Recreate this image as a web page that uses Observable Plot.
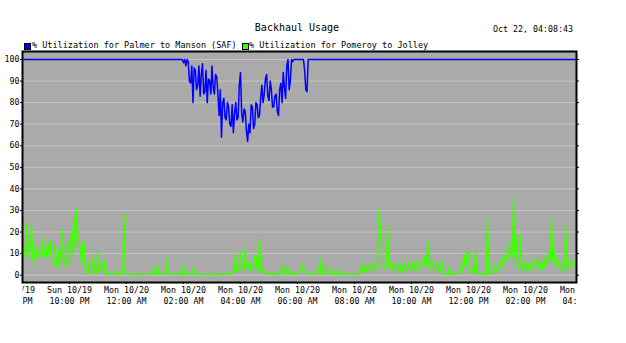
<!DOCTYPE html>
<html><head><meta charset="utf-8">
<script src="https://cdn.jsdelivr.net/npm/d3@7"></script>
<script src="https://cdn.jsdelivr.net/npm/@observablehq/plot@0.6"></script>
<style>
html,body{margin:0;padding:0;background:#fff;}
#wrap{width:626px;height:343px;position:relative;overflow:hidden;font-family:"DejaVu Sans Mono",monospace;color:#000;}
#head{position:relative;width:626px;height:50px;}
#title{position:absolute;left:0;width:594px;top:21.5px;text-align:center;font-size:10px;line-height:12px;white-space:pre;}
#stamp{position:absolute;right:53px;top:23px;font-size:8.3px;line-height:12px;white-space:pre;}
.lg{position:absolute;top:38.5px;font-size:8.5px;line-height:12px;white-space:pre;}
.sw{position:absolute;top:43px;width:5px;height:5px;border:0.5px solid #000;}
</style>
</head><body>
<div id="wrap">
  <div id="head">
    <div id="title"></div>
    <div id="stamp"></div>
    <div id="legend"></div>
  </div>
  <div id="chart"></div>
</div>
<script>
const chartTitle = "Backhaul Usage";
const timeStamp = "Oct 22, 04:08:43";
const seriesNames = ["% Utilization for Palmer to Manson (SAF)", "% Utilization for Pomeroy to Jolley"];
const seriesColors = ["#0000ff", "#40ff00"];

// samples every 2.5 minutes starting Sun 10/19 20:20
const startTime = Date.UTC(2014, 9, 19, 20, 20);
const stepSeconds = 150;

const palmerManson = [
 100,100,100,100,100,100,100,100,100,100,100,100,100,100,100,100,100,100,100,100,
 100,100,100,100,100,100,100,100,100,100,100,100,100,100,100,100,100,100,100,100,
 100,100,100,100,100,100,100,100,100,100,100,100,100,100,100,100,100,100,100,100,
 100,100,100,100,100,100,100,100,100,100,100,100,100,100,100,100,100,100,100,100,
 100,100,100,100,100,100,100,100,100,100,100,100,100,100,100,100,100,100,100,100,
 100,100,100,100,100,100,100,100,100,100,100,100,100,100,100,100,100,100,100,100,
 100,100,100,100,100,100,100,100,100,100,100,100,100,100,100,100,
 98.5,100, 97,100, 99,90, 89,97, 80,96, 95,86, 88,97, 83,93, 98,84, 85,95,
 80,91, 90,84, 97,87, 84,93, 92,84, 74,86, 64,80, 82,73, 72,80, 78,70,
 69,79, 66,75, 80,72, 73,88, 94,75, 71,77, 76,67, 62,70, 66,79, 78,68,
 70,80, 79,73, 74,82, 88,80, 84,91, 93,83, 81,90, 86,78, 78,83, 84,76,
 74,86, 89,80, 94,87, 82,97, 100,86, 90,100, 99,100, 100,100, 100,100, 100,100,
 100,100, 95,86, 85,100,
 100,100,100,100,100,100,100,100,100,100,100,100,100,100,100,100,100,100,100,100,
 100,100,100,100,100,100,100,100,100,100,100,100,100,100,100,100,100,100,100,100,
 100,100,100,100,100,100,100,100,100,100,100,100,100,100,100,100,100,100,100,100,
 100,100,100,100,100,100,100,100,100,100,100,100,100,100,100,100,100,100,100,100,
 100,100,100,100,100,100,100,100,100,100,100,100,100,100,100,100,100,100,100,100,
 100,100,100,100,100,100,100,100,100,100,100,100,100,100,100,100,100,100,100,100,
 100,100,100,100,100,100,100,100,100,100,100,100,100,100,100,100,100,100,100,100,
 100,100,100,100,100,100,100,100,100,100,100,100,100,100,100,100,100,100,100,100,
 100,100,100,100,100,100,100,100,100,100,100,100,100,100,100,100,100,100,100,100,
 100,100,100,100,100,100,100,100,100,100,100,100,100,100,100,100,100,100,100,100,
 100,100,100,100,100,100,100,100,100,100,100,100,100,100,100,100,100,100,100,100,
 100,100,100,100,100,100,100
];

const pomeroyJolley = [
 10,7, 13,9, 24,8, 9,12, 23,9, 5,11, 14,8, 9,11, 10,8, 18,9,
 8,12, 14,9, 16,6, 5,11, 15,4, 3,10, 12,6, 21,8, 4,13, 15,5,
 8,14, 22,10, 27,12, 31,18, 16,12, 5,14, 16,4, 0.3,4, 6,1, 1,3,
 9,1, 2,0.5, 11,2, 2,4, 6,1, 7,0.5, 1,0.5, 0.5,0.3, 0.5,0.4, 0.5,0.3,
 2,0.5, 0.5,0.4, 1,0.5, 28.5,1, 2,0.5, 0.3,0.4, 0.5,0.3, 0.3,0.4, 0.3,0.3, 0.5,0.4,
 0.3,0.4, 0.3,0.5, 0.5,0.3, 0.3,0.4, 0.5,0.4, 3,0.5, 1,0.4, 5,0.5, 0.5,0.4, 2,0.5,
 0.5,0.4, 8,1, 1,0.5, 0.5,0.3, 0.3,0.4, 0.5,0.3, 0.3,0.4, 0.5,0.3, 5,0.5, 0.5,0.4,
 1,0.5, 0.5,0.4, 4,0.5, 0.5,0.3, 0.3,0.4, 0.5,0.3, 0.3,0.4, 0.3,0.3, 0.5,0.4, 0.3,0.3,
 0.3,0.4, 0.5,0.3, 0.3,0.4, 0.3,0.3, 0.5,0.4, 0.3,0.4, 0.5,0.5, 1,0.5, 2,1, 1,2,
 10,2, 2,3, 10,2, 3,4, 13,3, 5,3, 6,2, 3,4, 9,8, 3,2,
 17,3, 2,1, 3,1, 1,0.5, 0.5,0.4, 1.5,0.5, 0.3,0.4, 0.3,0.3, 0.5,0.4, 0.3,0.4,
 5,1, 2,0.5, 3.5,0.5, 0.5,0.4, 1.5,0.5, 0.5,0.4, 0.5,1, 3,2, 5,2, 3,1,
 1,0.5, 0.5,0.4, 1,0.5, 0.5,0.4, 4,1, 1,0.5, 8,1, 1,0.5, 0.5,1, 4,1,
 1,0.5, 1,0.5, 3,0.5, 1,0.5, 0.3,0.4, 1.5,0.4, 0.3,0.4, 0.3,0.3, 0.5,0.4, 0.3,0.3,
 0.3,0.4, 0.3,0.4, 0.5,1, 5,2, 2,4, 4,1, 2,5, 6,2, 3,5, 5,3,
 30,27, 20,5, 5,2, 3,5, 23,4, 4,6, 2,5, 5,1, 3,6, 5,2,
 1,4, 6,3, 2,6, 5,2, 3,6, 6,2, 2,5, 7,3, 4,6, 7,5,
 10,4, 15,3, 3,6, 7,2, 2,6, 5,3, 1,4, 7,2, 0.5,0.4, 0.5,0.4,
 4,0.5, 0.5,0.4, 0.3,0.4, 0.5,1, 2,3, 4,1, 10,4, 5,11, 10,3, 1,2,
 3,1, 12,1, 0.5,0.4, 1,0.3, 0,0.5, 1,0.5, 27,1, 1,0.5, 2,1, 5,2,
 1,4, 5,3, 8,5, 10,6, 7,10, 15,8, 11,8, 36,10, 18,4, 5,3,
 19,2, 3,5, 6,2, 3,5, 4,2, 7,4, 4,6, 8,3, 3,5, 6,2,
 9,4, 5,8, 10,6, 26,8, 12,5, 8,4, 6,2, 3,6, 5,2, 23,4,
 4,6, 7,3, 4,7, 6,3, 5
];

const yTicks = [0,10,20,30,40,50,60,70,80,90,100];
const xTickTimes = [
 Date.UTC(2014,9,19,20), Date.UTC(2014,9,19,22), Date.UTC(2014,9,20,0), Date.UTC(2014,9,20,2),
 Date.UTC(2014,9,20,4), Date.UTC(2014,9,20,6), Date.UTC(2014,9,20,8), Date.UTC(2014,9,20,10),
 Date.UTC(2014,9,20,12), Date.UTC(2014,9,20,14), Date.UTC(2014,9,20,16)
].map(t => new Date(t));
const xDomain = [new Date(Date.UTC(2014,9,19,20,21,4)), new Date(Date.UTC(2014,9,20,15,47,24))];
const yDomain = [-3.4, 103.7];

// header
document.getElementById("title").textContent = chartTitle;
document.getElementById("stamp").textContent = timeStamp;
const legend = document.getElementById("legend");
const legendPos = [{sw: 24, tx: 32}, {sw: 242, tx: 249}];
seriesNames.forEach((name, k) => {
  const s = document.createElement("div");
  s.className = "sw"; s.style.left = legendPos[k].sw + "px"; s.style.background = seriesColors[k];
  legend.appendChild(s);
  const t = document.createElement("div");
  t.className = "lg"; t.style.left = legendPos[k].tx + "px"; t.textContent = name;
  legend.appendChild(t);
});

const toRows = (vals, series) => vals.map((v, i) => ({time: new Date(startTime + i * stepSeconds * 1000), value: v, series}));
const rowsA = toRows(palmerManson, seriesNames[0]);
const rowsB = toRows(pomeroyJolley, seriesNames[1]);

const fmt = d3.utcFormat("%a %m/%d\n%I:%M %p");

const chart = Plot.plot({
  width: 626,
  height: 293,
  marginLeft: 22,
  marginRight: 50,
  marginTop: 1,
  marginBottom: 61,
  style: {fontFamily: "DejaVu Sans Mono, monospace", fontSize: "8.3px", background: "white", color: "black"},
  x: {type: "utc", domain: xDomain},
  y: {domain: yDomain},
  marks: [
    Plot.frame({fill: "#aaaaaa", stroke: null}),
    Plot.gridY({ticks: yTicks, stroke: "#c6c6c6", strokeOpacity: 1, strokeWidth: 1}),
    Plot.line(rowsB, {x: "time", y: "value", stroke: seriesColors[1], strokeWidth: 1.5, clip: true}),
    Plot.line(rowsA, {x: "time", y: "value", stroke: seriesColors[0], strokeWidth: 1.5, clip: true}),
    Plot.frame({stroke: "black", strokeWidth: 2}),
    Plot.axisY({ticks: yTicks, tickSize: 2, tickPadding: 1, label: null, fill: "black", stroke: "black"}),
    Plot.axisY({anchor: "right", ticks: yTicks, tickSize: 2, tickFormat: () => "", label: null, stroke: "black"}),
    Plot.axisX({ticks: xTickTimes, tickFormat: fmt, tickSize: 2, tickPadding: 1, lineHeight: 1.3, label: null, fill: "black", stroke: "black"})
  ]
});
document.getElementById("chart").appendChild(chart);

// clip the bottom tick labels to the width of the plot area, as in the original
const svg = d3.select(chart);
svg.append("defs").append("clipPath").attr("id", "xclip")
  .append("rect").attr("x", 22).attr("y", -1000).attr("width", 554).attr("height", 3000);
svg.selectAll('g[aria-label="x-axis tick label"], g[aria-label="x-axis tick"]').attr("clip-path", "url(#xclip)");
</script>
</body></html>
